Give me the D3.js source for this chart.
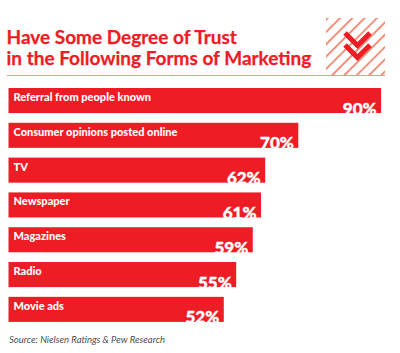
<!DOCTYPE html>
<html>
  <head>
    <meta charset="utf-8">
    <title>Trust in marketing</title>
    <script src="https://d3js.org/d3.v7.min.js"></script>
    <style>
      html, body { margin: 0; padding: 0; background: #fff; }
      svg { display: block; }
    </style>
  </head>
  <body>
    <script>
      const categories = ["Referral from people known", "Consumer opinions posted online", "TV", "Newspaper", "Magazines", "Radio", "Movie ads"];
      const values = [90, 70, 62, 61, 59, 55, 52];
      const titleLines = ["Have Some Degree of Trust", "in the Following Forms of Marketing"];
      const source = "Source: Nielsen Ratings & Pew Research";

      const width = 400;
      const height = 353;
      const red = "#ee1c25";
      const font = "Lato, 'Open Sans', sans-serif";

      const svg = d3.select("body").append("svg")
        .attr("width", width)
        .attr("height", height);

      const x = d3.scaleLinear().domain([0, 100]).range([8.5, 422.5]);
      const y = d3.scaleBand().domain(categories).range([88, 321.9]).paddingInner(0.28).paddingOuter(0).align(0);

      // title
      svg.selectAll("text.title")
        .data(titleLines)
        .join("text")
        .attr("class", "title")
        .attr("x", 6.5)
        .attr("y", (d, i) => 43.5 + i * 21.6)
        .attr("font-family", font)
        .attr("font-weight", 700)
        .attr("font-size", 19)
        .attr("fill", red)
        .attr("stroke", red)
        .attr("stroke-width", 0.25)
        .text(d => d);

      // hatched box with chevrons
      const pattern = svg.append("defs").append("pattern")
        .attr("id", "hatch")
        .attr("patternUnits", "userSpaceOnUse")
        .attr("width", 8.7)
        .attr("height", 8.7)
        .attr("patternTransform", "rotate(45)");
      pattern.append("rect")
        .attr("width", 1.8)
        .attr("height", 8.7)
        .attr("fill", "#f2876f");

      svg.append("rect")
        .attr("x", 326)
        .attr("y", 18)
        .attr("width", 59)
        .attr("height", 57)
        .attr("fill", "url(#hatch)");

      const chevron = d3.line();
      svg.selectAll("path.chevron")
        .data([0, 1])
        .join("path")
        .attr("class", "chevron")
        .attr("d", chevron([[345, 33], [357.5, 45.5], [370, 33]]))
        .attr("transform", d => "translate(0," + d * 12 + ")")
        .attr("fill", "none")
        .attr("stroke", red)
        .attr("stroke-width", 5);

      svg.append("line")
        .attr("x1", 7)
        .attr("x2", 385)
        .attr("y1", 75.5)
        .attr("y2", 75.5)
        .attr("stroke", "#f7958c")
        .attr("stroke-width", 1);

      // bars
      const rows = svg.selectAll("g.row")
        .data(categories)
        .join("g")
        .attr("class", "row")
        .attr("transform", d => "translate(0," + y(d) + ")");

      rows.append("rect")
        .attr("x", x(0))
        .attr("width", (d, i) => x(values[i]) - x(0))
        .attr("height", y.bandwidth())
        .attr("fill", red);

      rows.append("text")
        .attr("x", 13.5)
        .attr("y", 13)
        .attr("font-family", font)
        .attr("font-weight", 900)
        .attr("font-size", 11)
        .attr("fill", "#fff")
        .text(d => d);

      rows.append("text")
        .attr("x", (d, i) => x(values[i]) - 4.5)
        .attr("y", y.bandwidth() + 1.5)
        .attr("text-anchor", "end")
        .attr("font-family", font)
        .attr("font-weight", 900)
        .attr("font-size", 17)
        .attr("fill", "#fff")
        .attr("stroke", "#fff")
        .attr("stroke-width", 0.4)
        .text((d, i) => values[i] + "%");

      svg.append("text")
        .attr("x", 9)
        .attr("y", 342.7)
        .attr("font-family", font)
        .attr("font-style", "italic")
        .attr("font-size", 9.5)
        .attr("fill", "#4d4d4f")
        .text(source);
    </script>
  </body>
</html>
